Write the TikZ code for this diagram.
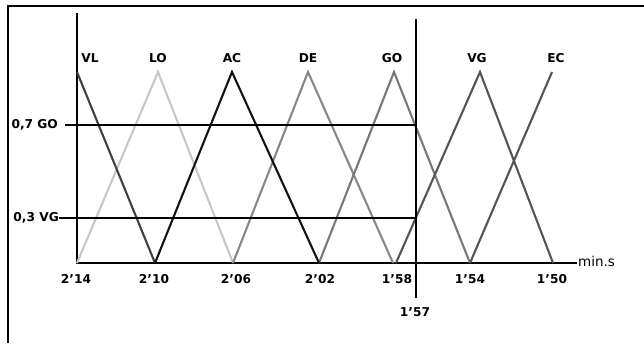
\documentclass[tikz,border=0pt]{standalone}
\usepackage{fontspec}
\setmainfont{DejaVu Sans}
\newcommand{\apo}{\symbol{39}}
\begin{document}
\begin{tikzpicture}[x=1pt,y=-1pt,
  lbl/.style={font=\bfseries\fontsize{12.2}{14}\selectfont, inner sep=0pt},
  axisline/.style={line width=1.5pt, black},
  tri/.style={line width=2.1pt, line join=miter},
  guide/.style={line width=1.2pt, black}]
\definecolor{cVL}{gray}{0.25}
\definecolor{cLO}{gray}{0.78}
\definecolor{cAC}{gray}{0.07}
\definecolor{cDE}{gray}{0.53}
\definecolor{cGO}{gray}{0.47}
\definecolor{cVG}{gray}{0.33}
\definecolor{cEC}{gray}{0.33}
\useasboundingbox (0,0) rectangle (644,343);
% frame
\coordinate (fTR) at (644,6);
\coordinate (fTL) at (8,6);
\coordinate (fBL) at (8,343);
\draw[line width=1.5pt] (fTR) -- (fTL) -- (fBL);
% axes
\coordinate (O) at (77,263);
\coordinate (yTop) at (77,13);
\coordinate (xEnd) at (577,263);
\draw[axisline] (yTop) -- (O) -- (xEnd);
\node[anchor=west, inner sep=1pt, font=\fontsize{13.5}{15}\selectfont] (mins) at (577,261) {min.s};
% baseline points
\coordinate (b1) at (77,263);
\coordinate (b2) at (155,263);
\coordinate (b3) at (233,263);
\coordinate (b4) at (319,263);
\coordinate (b5a) at (393,263);
\coordinate (b5b) at (396,263);
\coordinate (b6) at (470,263);
\coordinate (b7) at (553,263);
% peaks
\coordinate (pVL) at (77,72);
\coordinate (pLO) at (158,72);
\coordinate (pAC) at (232,72);
\coordinate (pDE) at (308,72);
\coordinate (pGO) at (394,72);
\coordinate (pVG) at (480,72);
\coordinate (pEC) at (552,72);
% triangles
\draw[tri, cLO] (b1) -- (pLO) -- (b3);
\draw[tri, cDE] (b3) -- (pDE) -- (b5a);
\draw[tri, cGO] (b4) -- (pGO) -- (b6);
\draw[tri, cVL] (pVL) -- (b2);
\draw[tri, cAC] (b2) -- (pAC) -- (b4);
\draw[tri, cVG] (b5b) -- (pVG) -- (b7);
\draw[tri, cEC] (b6) -- (pEC);
% guide lines
\coordinate (g7a) at (65,125);
\coordinate (g7b) at (416,125);
\coordinate (g3a) at (59,218);
\coordinate (g3b) at (416,218);
\coordinate (vTop) at (416,19);
\coordinate (vBot) at (416,298);
\draw[guide] (g7a) -- (g7b);
\draw[guide] (g3a) -- (g3b);
\draw[guide] (vTop) -- (vBot);
\node[lbl, anchor=east] (l07) at (58,125) {0,7 GO};
\node[lbl, anchor=east] (l03) at (59,218) {0,3 VG};
% peak labels
\node[lbl] (tVL) at (90,58) {VL};
\node[lbl] (tLO) at (158,58) {LO};
\node[lbl] (tAC) at (232,58) {AC};
\node[lbl] (tDE) at (308,58) {DE};
\node[lbl] (tGO) at (392,58) {GO};
\node[lbl] (tVG) at (477,58) {VG};
\node[lbl] (tEC) at (556,58) {EC};
% tick labels
\node[lbl] (x1) at (76,279) {2\apo 14};
\node[lbl] (x2) at (154,279) {2\apo 10};
\node[lbl] (x3) at (236,279) {2\apo 06};
\node[lbl] (x4) at (320,279) {2\apo 02};
\node[lbl] (x5) at (397,279) {1\apo 58};
\node[lbl] (x6) at (470,279) {1\apo 54};
\node[lbl] (x7) at (552,279) {1\apo 50};
\node[lbl] (x57) at (415,312) {1\apo 57};
\end{tikzpicture}
\end{document}
